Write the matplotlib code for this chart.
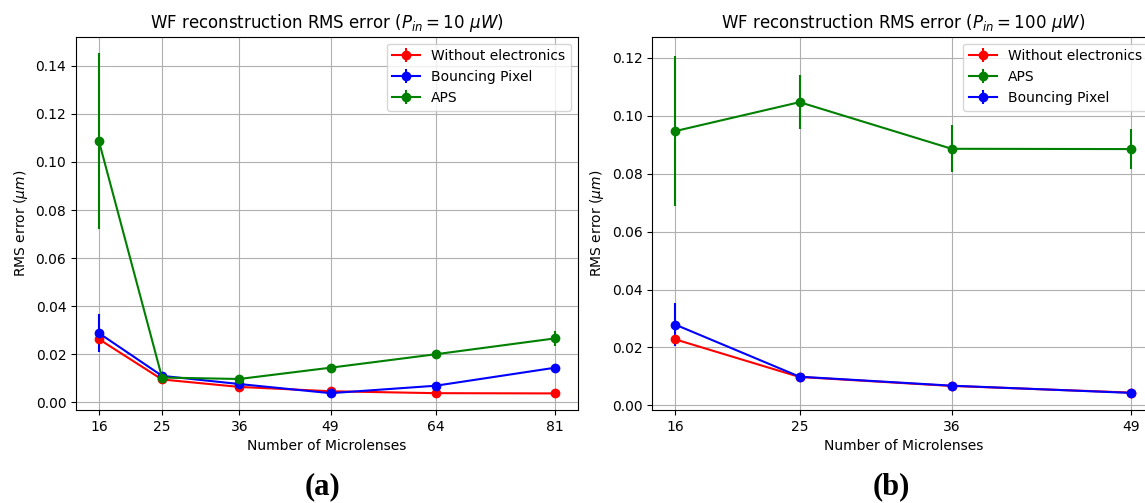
import numpy as np
import matplotlib
matplotlib.use("Agg")
import matplotlib.pyplot as plt

# (a) P_in = 10 uW
lenses_a = [16, 25, 36, 49, 64, 81]
no_elec_a = [0.0263, 0.0095, 0.0064, 0.0046, 0.0038, 0.0037]
no_elec_a_err = [0.0012, 0.0005, 0.0004, 0.0003, 0.0002, 0.0002]
bouncing_a = [0.0288, 0.0110, 0.0076, 0.0038, 0.0069, 0.0144]
bouncing_a_err = [0.0078, 0.0008, 0.0005, 0.0004, 0.0006, 0.0010]
aps_a = [0.1088, 0.0103, 0.0097, 0.0144, 0.0200, 0.0266]
aps_a_err = [0.0365, 0.0008, 0.0007, 0.0010, 0.0015, 0.0030]

# (b) P_in = 100 uW
lenses_b = [16, 25, 36, 49]
no_elec_b = [0.0228, 0.0098, 0.0067, 0.0044]
no_elec_b_err = [0.0010, 0.0004, 0.0003, 0.0002]
aps_b = [0.0947, 0.1047, 0.0886, 0.0885]
aps_b_err = [0.0260, 0.0094, 0.0081, 0.0069]
bouncing_b = [0.0279, 0.0099, 0.0068, 0.0043]
bouncing_b_err = [0.0073, 0.0005, 0.0003, 0.0002]

plt.rcParams["font.size"] = 10

fig = plt.figure(figsize=(11.45, 5.03), dpi=100)
ax1 = fig.add_axes([0.0664, 0.1849, 0.4384, 0.7421])
ax2 = fig.add_axes([0.5697, 0.1849, 0.4384, 0.7421])

ax1.errorbar(lenses_a, no_elec_a, yerr=no_elec_a_err, fmt="-o", color="red", label="Without electronics")
ax1.errorbar(lenses_a, bouncing_a, yerr=bouncing_a_err, fmt="-o", color="blue", label="Bouncing Pixel")
ax1.errorbar(lenses_a, aps_a, yerr=aps_a_err, fmt="-o", color="green", label="APS")
ax1.set_xticks(lenses_a)
ax1.set_ylim(-0.0032, 0.1521)
ax1.set_title(r"WF reconstruction RMS error ($P_{in} = 10\ \mu W$)")

ax2.errorbar(lenses_b, no_elec_b, yerr=no_elec_b_err, fmt="-o", color="red", label="Without electronics")
ax2.errorbar(lenses_b, aps_b, yerr=aps_b_err, fmt="-o", color="green", label="APS")
ax2.errorbar(lenses_b, bouncing_b, yerr=bouncing_b_err, fmt="-o", color="blue", label="Bouncing Pixel")
ax2.set_xticks(lenses_b)
ax2.set_ylim(-0.0016, 0.1273)
ax2.set_title(r"WF reconstruction RMS error ($P_{in} = 100\ \mu W$)")

for ax in (ax1, ax2):
    ax.set_xlabel("Number of Microlenses")
    ax.set_ylabel(r"RMS error ($\mu m$)")
    ax.grid(True)
    ax.legend(loc="upper right")

fig.text(322 / 1145, 1 - 487 / 503, "(a)", ha="center", va="center",
         family="Liberation Serif", weight="bold", fontsize=22)
fig.text(891 / 1145, 1 - 487 / 503, "(b)", ha="center", va="center",
         family="Liberation Serif", weight="bold", fontsize=22)

fig.savefig("out.png", dpi=100)
